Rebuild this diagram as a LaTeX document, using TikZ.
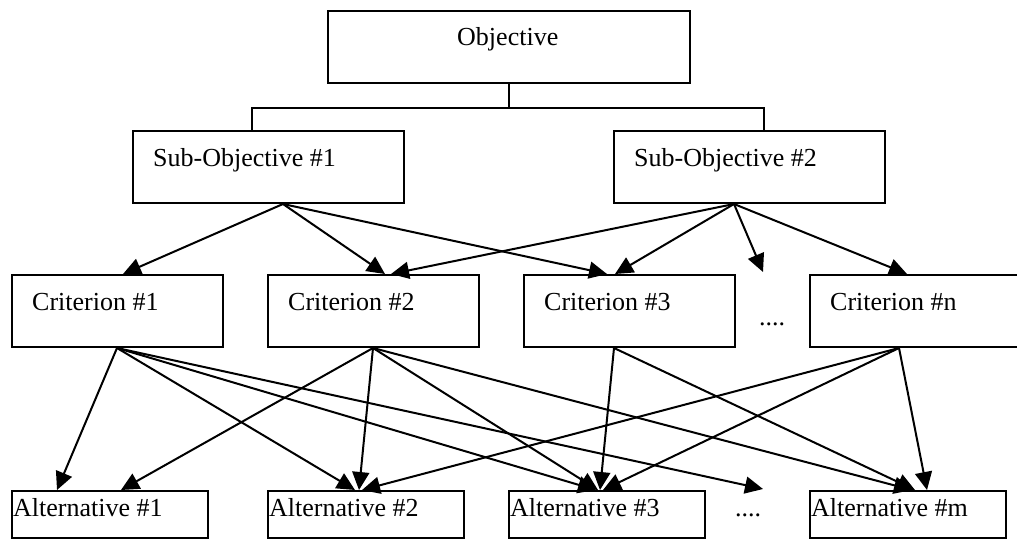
\documentclass[tikz,border=0pt]{standalone}
\usepackage{fontspec}
\setmainfont{Liberation Serif}
\usetikzlibrary{arrows.meta,calc}
\begin{document}
\begin{tikzpicture}[x=1pt,y=-1pt,
  box/.style={draw=black,line width=2pt,rectangle,inner sep=0pt,anchor=north west},
  txt/.style={inner sep=0pt,anchor=base west,font=\fontsize{26}{30}\selectfont},
  conn/.style={draw=black,line width=2pt},
  arr/.style={conn,-{Triangle[length=18pt,width=17pt]},shorten >=0pt}]
\useasboundingbox (0,0) rectangle (1017,538);
% boxes
\node[box,minimum width=362,minimum height=72] (obj) at (327,10) {};
\node[box,minimum width=271,minimum height=72] (sub1) at (132,130) {};
\node[box,minimum width=271,minimum height=72] (sub2) at (613,130) {};
\node[box,minimum width=211,minimum height=72] (c1) at (11,274) {};
\node[box,minimum width=211,minimum height=72] (c2) at (267,274) {};
\node[box,minimum width=211,minimum height=72] (c3) at (523,274) {};
\node[box,minimum width=230,minimum height=72] (cn) at (809,274) {};
\node[box,minimum width=196,minimum height=47] (a1) at (11,490) {};
\node[box,minimum width=196,minimum height=47] (a2) at (267,490) {};
\node[box,minimum width=196,minimum height=47] (a3) at (508,490) {};
\node[box,minimum width=196,minimum height=47] (am) at (809,490) {};
% texts
\node[txt] (objt) at ($(obj.north west)+(130,35)$) {Objective};
\node[txt] (sub1t) at ($(sub1.north west)+(21,36)$) {Sub-Objective \#1};
\node[txt] (sub2t) at ($(sub2.north west)+(21,36)$) {Sub-Objective \#2};
\node[txt] (c1t) at ($(c1.north west)+(21,36)$) {Criterion \#1};
\node[txt] (c2t) at ($(c2.north west)+(21,36)$) {Criterion \#2};
\node[txt] (c3t) at ($(c3.north west)+(21,36)$) {Criterion \#3};
\node[txt] (cnt) at ($(cn.north west)+(21,36)$) {Criterion \#n};
\node[txt] (cdots) at (759,325) {....};
\node[txt] (a1t) at ($(a1.north west)+(2,26)$) {Alternative \#1};
\node[txt] (a2t) at ($(a2.north west)+(2,26)$) {Alternative \#2};
\node[txt] (a3t) at ($(a3.north west)+(2,26)$) {Alternative \#3};
\node[txt] (amt) at ($(am.north west)+(2,26)$) {Alternative \#m};
\node[txt] (adots) at (735,516) {....};
% tree connector
\draw[conn] (obj.south) -- ++(0,24) -| (sub1.north -| 252,0);
\draw[conn] (obj.south) -- ++(0,24) -| (sub2.north -| 764,0);
% free ends
\coordinate (cdotsend) at (763,272);
\coordinate (adotsend) at (763,489);
% sub-objective arrows
\coordinate (s1o) at ($(sub1.south west)+(151,0)$);
\coordinate (s2o) at ($(sub2.south west)+(121,0)$);
\draw[arr] (s1o) -- (c1.north west -| 123,0);
\draw[arr] (s1o) -- (c2.north west -| 385,0);
\draw[arr] (s1o) -- (c3.north west -| 607,0);
\draw[arr] (s2o) -- (c2.north west -| 391,0);
\draw[arr] (s2o) -- (c3.north west -| 615,0);
\draw[arr] (s2o) -- (cdotsend);
\draw[arr] (s2o) -- (cn.north west -| 907,0);
% criterion arrows
\coordinate (c1o) at ($(c1.south west)+(106,0)$);
\coordinate (c2o) at ($(c2.south west)+(106,0)$);
\coordinate (c3o) at ($(c3.south west)+(91,0)$);
\coordinate (cno) at ($(cn.south west)+(90,0)$);
\draw[arr] (c1o) -- (a1.north west -| 57,0);
\draw[arr] (c1o) -- (a2.north west -| 355,0);
\draw[arr] (c1o) -- (a3.north west -| 596,0);
\draw[arr] (c1o) -- (adotsend);
\draw[arr] (c2o) -- (a1.north west -| 121,0);
\draw[arr] (c2o) -- (a2.north west -| 359,0);
\draw[arr] (c2o) -- (a3.north west -| 598,0);
\draw[arr] (c2o) -- (am.north west -| 912,0);
\draw[arr] (c3o) -- (a3.north west -| 600,0);
\draw[arr] (c3o) -- (am.north west -| 915,0);
\draw[arr] (cno) -- (a2.north west -| 362,0);
\draw[arr] (cno) -- (a3.north west -| 603,0);
\draw[arr] (cno) -- (am.north west -| 927,0);
\end{tikzpicture}
\end{document}
